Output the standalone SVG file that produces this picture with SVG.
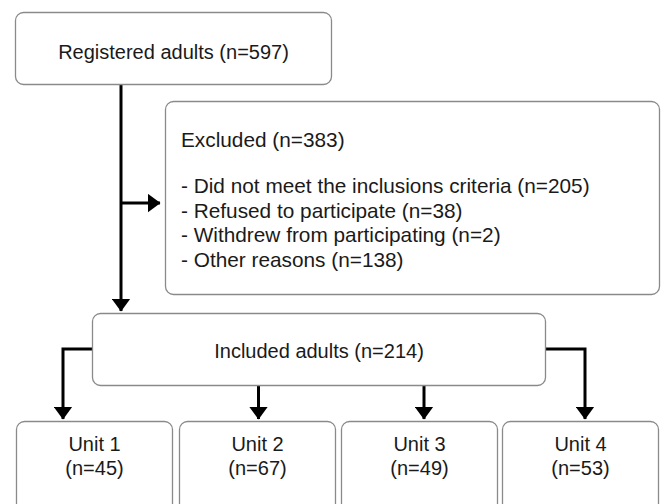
<svg xmlns="http://www.w3.org/2000/svg" width="662" height="504" viewBox="0 0 662 504">
<defs>
<style>
.box{fill:#fff;stroke:#8a8a8a;stroke-width:1.3}
.t{font-family:"Liberation Sans",Arial,sans-serif;font-size:20px;fill:#1a1a1a}
.c{text-anchor:middle}
.e{font-size:20.8px}
.ln{fill:none;stroke:#000;stroke-width:3}
</style>
<marker id="ah" markerUnits="userSpaceOnUse" markerWidth="13" markerHeight="19" refX="12.5" refY="9.5" orient="auto">
<path d="M0,0 L13,9.5 L0,19 Z" fill="#000"/>
</marker>
</defs>
<rect width="662" height="504" fill="#fff"/>
<g id="connectors">
<path class="ln" d="M121,84 V311" marker-end="url(#ah)"/>
<path class="ln" d="M121,203 H160" marker-end="url(#ah)"/>
<path class="ln" d="M92,349 H63 V419" marker-end="url(#ah)"/>
<path class="ln" d="M258.5,386 V419" marker-end="url(#ah)"/>
<path class="ln" d="M424,386 V419" marker-end="url(#ah)"/>
<path class="ln" d="M546,349 H585 V419" marker-end="url(#ah)"/>
</g>
<g id="registered">
<rect class="box" x="15.5" y="12.5" width="316" height="72" rx="8"/>
<text class="t c" x="173.5" y="59">Registered adults (n=597)</text>
</g>
<g id="excluded">
<rect class="box" x="165.5" y="101.5" width="494" height="193" rx="8"/>
<text class="t e" x="181" y="147">Excluded (n=383)</text>
<text class="t e" x="181" y="193">- Did not meet the inclusions criteria (n=205)</text>
<text class="t e" x="181" y="217.5">- Refused to participate (n=38)</text>
<text class="t e" x="181" y="242">- Withdrew from participating (n=2)</text>
<text class="t e" x="181" y="266.5">- Other reasons (n=138)</text>
</g>
<g id="included">
<rect class="box" x="92.5" y="313.5" width="453" height="72" rx="8"/>
<text class="t c" x="319" y="357.5">Included adults (n=214)</text>
</g>
<g id="unit1">
<rect class="box" x="16.5" y="421.5" width="156" height="100" rx="8"/>
<text class="t c" x="94.5" y="451">Unit 1</text>
<text class="t c" x="94.5" y="475">(n=45)</text>
</g>
<g id="unit2">
<rect class="box" x="179.5" y="421.5" width="156" height="100" rx="8"/>
<text class="t c" x="257.5" y="451">Unit 2</text>
<text class="t c" x="257.5" y="475">(n=67)</text>
</g>
<g id="unit3">
<rect class="box" x="341.5" y="421.5" width="156" height="100" rx="8"/>
<text class="t c" x="419.5" y="451">Unit 3</text>
<text class="t c" x="419.5" y="475">(n=49)</text>
</g>
<g id="unit4">
<rect class="box" x="502.5" y="421.5" width="156" height="100" rx="8"/>
<text class="t c" x="580.5" y="451">Unit 4</text>
<text class="t c" x="580.5" y="475">(n=53)</text>
</g>
</svg>
